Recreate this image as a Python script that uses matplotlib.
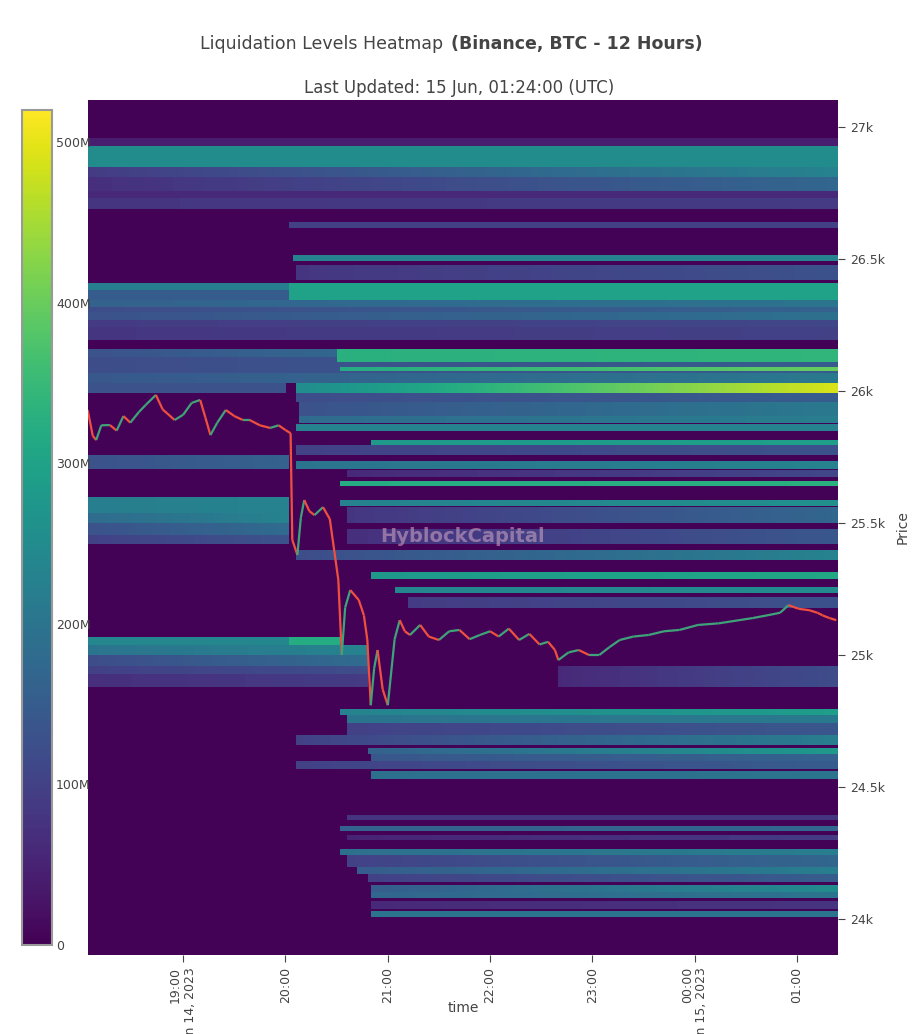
import numpy as np
import matplotlib
matplotlib.use("Agg")
import matplotlib.pyplot as plt
from matplotlib.collections import LineCollection

# ---- data ----
# bands: (price_lo, price_hi, start_hour, end_hour, value_start(M), value_end(M)); hours since 18:00 Jun 14
bands = [
    (26930, 26960, 0.07, 7.4, 40, 40), (26850, 26930, 0.07, 7.4, 250, 250),
    (26810, 26850, 0.07, 7.4, 90, 230), (26760, 26810, 0.07, 7.4, 70, 170),
    (26730, 26760, 0.07, 7.4, 60, 60), (26690, 26730, 0.07, 7.4, 80, 90),
    (26620, 26640, 2.04, 7.4, 100, 100), (26495, 26515, 2.07, 7.4, 230, 230),
    (26420, 26480, 2.10, 7.4, 80, 130), (26385, 26410, 0.07, 2.04, 220, 220),
    (26345, 26410, 2.04, 7.4, 300, 300), (26345, 26385, 0.07, 2.04, 150, 150),
    (26320, 26345, 0.07, 7.4, 160, 200), (26300, 26320, 0.07, 7.4, 120, 160),
    (26270, 26300, 0.07, 7.4, 130, 190), (26245, 26270, 0.07, 7.4, 90, 110),
    (26195, 26245, 0.07, 7.4, 80, 100), (26130, 26160, 0.07, 2.5, 130, 170),
    (26110, 26160, 2.50, 7.4, 330, 340), (26100, 26130, 0.07, 7.4, 120, 150),
    (26070, 26100, 0.07, 7.4, 120, 150), (26075, 26090, 2.53, 7.4, 320, 400),
    (26030, 26070, 0.07, 7.4, 140, 210), (25995, 26030, 0.07, 2.0, 130, 130),
    (25995, 26030, 2.09, 7.4, 250, 490), (25960, 25995, 2.10, 7.4, 120, 150),
    (25900, 25960, 2.14, 7.4, 130, 210), (25880, 25905, 2.14, 7.4, 180, 220),
    (25850, 25875, 2.10, 7.4, 230, 230), (25795, 25815, 2.82, 7.4, 280, 290),
    (25760, 25795, 2.10, 7.4, 100, 130), (25705, 25735, 2.10, 7.4, 200, 230),
    (25705, 25760, 0.07, 2.04, 130, 160), (25640, 25660, 2.53, 7.4, 320, 330),
    (25565, 25590, 2.55, 7.4, 230, 260), (25540, 25600, 0.07, 2.04, 220, 230),
    (25500, 25540, 0.07, 2.04, 180, 230), (25455, 25500, 0.07, 2.04, 130, 180),
    (25420, 25455, 0.07, 2.04, 100, 130), (25500, 25560, 2.60, 7.4, 80, 170),
    (25420, 25480, 2.60, 7.4, 70, 140), (25675, 25700, 2.60, 7.4, 60, 110),
    (25360, 25400, 2.10, 7.4, 120, 230), (25290, 25315, 2.82, 7.4, 280, 310),
    (25235, 25260, 3.07, 7.4, 240, 250), (25180, 25220, 3.20, 7.4, 90, 130),
    (25040, 25070, 0.07, 2.53, 240, 240), (25040, 25070, 2.04, 2.53, 320, 320),
    (25000, 25040, 0.07, 2.8, 200, 230), (24960, 25000, 0.07, 2.8, 120, 180),
    (24930, 24960, 0.07, 2.8, 100, 120), (24880, 24930, 0.07, 2.8, 70, 90),
    (24880, 24960, 4.67, 7.4, 60, 120), (24775, 24795, 2.53, 7.4, 230, 290),
    (24745, 24775, 2.60, 7.4, 200, 210), (24700, 24745, 2.60, 7.4, 100, 140),
    (24660, 24700, 2.10, 7.4, 100, 220), (24625, 24650, 2.80, 7.4, 160, 280),
    (24600, 24625, 2.82, 7.4, 140, 160), (24570, 24600, 2.10, 7.4, 100, 150),
    (24530, 24560, 2.82, 7.4, 190, 200), (24375, 24395, 2.60, 7.4, 80, 80),
    (24335, 24355, 2.55, 7.4, 160, 170), (24300, 24320, 2.60, 7.4, 50, 90),
    (24245, 24265, 2.55, 7.4, 190, 220), (24200, 24245, 2.60, 7.4, 100, 170),
    (24170, 24200, 2.70, 7.4, 150, 220), (24140, 24170, 2.80, 7.4, 100, 150),
    (24105, 24130, 2.82, 7.4, 150, 250), (24080, 24105, 2.82, 7.4, 170, 200),
    (24040, 24070, 2.85, 7.4, 60, 80), (24010, 24030, 2.82, 7.4, 200, 200),
]

price_times = ["18:04","18:07","18:09","18:12","18:17","18:21","18:25","18:29","18:34","18:38","18:44","18:48",
               "18:55","19:00","19:05","19:10","19:13","19:16","19:20","19:25","19:30","19:35","19:39","19:45",
               "19:51","19:56","20:00","20:03","20:04","20:07","20:09","20:11","20:14","20:17","20:22","20:26",
               "20:31","20:33","20:35","20:38","20:43","20:46","20:48","20:50","20:52","20:54","20:57","21:00",
               "21:04","21:07","21:10","21:13","21:19","21:24","21:30","21:36","21:42","21:48","21:54","22:00",
               "22:05","22:11","22:17","22:23","22:29","22:34","22:38","22:40","22:46","22:52","22:58","23:04",
               "23:10","23:16","23:24","23:33","23:42","23:51","00:02","00:14","00:26","00:34","00:43","00:50",
               "00:55","01:01","01:07","01:12","01:15","01:19","01:23"]
prices = [25928,25830,25814,25870,25871,25850,25905,25880,25920,25947,25985,25930,
          25890,25910,25955,25966,25900,25833,25880,25928,25905,25890,25890,25870,
          25860,25870,25852,25840,25436,25379,25520,25587,25545,25530,25560,25515,
          25284,25000,25180,25246,25208,25150,25057,24810,24950,25019,24870,24810,
          25060,25132,25090,25076,25114,25070,25057,25090,25095,25060,25076,25090,
          25070,25100,25057,25080,25040,25050,25019,24981,25010,25019,25000,25000,
          25030,25057,25070,25076,25090,25095,25114,25120,25132,25140,25151,25160,
          25189,25175,25170,25160,25150,25140,25132]

colorbar_ticks = [0, 100, 200, 300, 400, 500]
price_ticks = [24000, 24500, 25000, 25500, 26000, 26500, 27000]
price_tick_labels = ["24k", "24.5k", "25k", "25.5k", "26k", "26.5k", "27k"]
time_ticks = [1, 2, 3, 4, 5, 6, 7]
time_tick_labels = ["19:00\nJun 14, 2023", "20:00", "21:00", "22:00", "23:00", "00:00\nJun 15, 2023", "01:00"]

# ---- grid ----
t0, t1 = 0.07, 7.4
p0, p1 = 23864, 27102
t_edges = np.linspace(t0, t1, 221)
p_edges = np.arange(p0, p1 + 5, 5.0)
tc = 0.5 * (t_edges[:-1] + t_edges[1:])
pc = 0.5 * (p_edges[:-1] + p_edges[1:])
Z = np.full((len(pc), len(tc)), 3.0)
for lo, hi, a, b, va, vb in bands:
    rows = (pc >= lo) & (pc < hi)
    cols = (tc >= a) & (tc <= b)
    frac = np.clip((tc - a) / max(b - a, 1e-6), 0, 1)
    vals = va + (vb - va) * frac
    sub = np.where(cols, vals, 0)
    Z[rows] = np.maximum(Z[rows], sub[None, :])

def to_h(s):
    h, m = map(int, s.split(":"))
    if h < 12:
        h += 24
    return h - 18 + m / 60

th = np.array([to_h(s) for s in price_times])
pr = np.array(prices, dtype=float)

# ---- figure ----
fig = plt.figure(figsize=(9.18, 10.34), dpi=100)
ax = fig.add_axes([88/918, 1-955/1034, 750/918, 855/1034])
mesh = ax.pcolormesh(t_edges, p_edges, Z, cmap="viridis", vmin=0, vmax=520, shading="flat")
pts = np.column_stack([th, pr])
segs = np.stack([pts[:-1], pts[1:]], axis=1)
cols = ["#ef4f3f" if pr[i+1] < pr[i] else "#3fa37a" for i in range(len(pr)-1)]
ax.add_collection(LineCollection(segs, colors=cols, linewidths=1.6, zorder=3))
ax.set_xlim(t0, t1)
ax.set_ylim(p0, p1)
for s in ax.spines.values():
    s.set_visible(False)
ax.yaxis.tick_right()
ax.yaxis.set_label_position("right")
ax.set_yticks(price_ticks)
ax.set_yticklabels(price_tick_labels)
ax.set_xticks(time_ticks)
ax.set_xticklabels(time_tick_labels, rotation=90, va="top", ha="center", multialignment="right")
ax.tick_params(colors="#444", labelsize=9, length=5, width=0.8)
ax.set_ylabel("Price", color="#444", fontsize=10, labelpad=8)
ax.set_xlabel("time", color="#444", fontsize=10, labelpad=-32)
ax.text(0.5, 0.49, "HyblockCapital", transform=ax.transAxes, ha="center", va="center",
        fontsize=14, fontweight="bold", color="#c8a0c0", alpha=0.6, zorder=4)

cax = fig.add_axes([22/918, 1-945/1034, 30/918, 835/1034])
cb = fig.colorbar(mesh, cax=cax, ticks=colorbar_ticks)
cb.ax.set_yticklabels(["0", "100M", "200M", "300M", "400M", "500M"])
cb.ax.tick_params(colors="#444", labelsize=9, length=0, pad=3)
cb.outline.set_edgecolor("#999")
cb.outline.set_linewidth(1.5)

fig.text(449/918, 1-44/1034, "Liquidation Levels Heatmap ", ha="right", va="center", fontsize=12.5, color="#444")
fig.text(451/918, 1-44/1034, "(Binance, BTC - 12 Hours)", ha="left", va="center", fontsize=12.5,
         color="#444", fontweight="bold")
fig.text(459/918, 1-88/1034, "Last Updated: 15 Jun, 01:24:00 (UTC)", ha="center", va="center",
         fontsize=12, color="#444")
fig.savefig("out.png", dpi=100)
